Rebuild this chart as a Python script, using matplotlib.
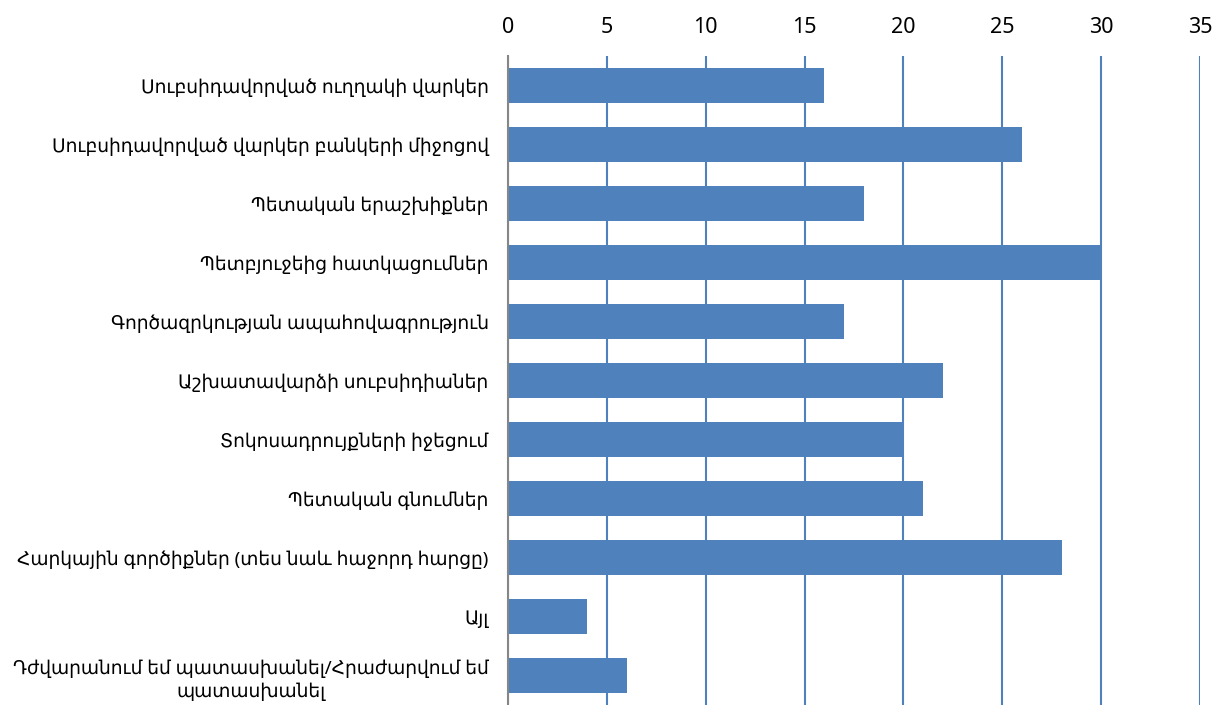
import matplotlib
matplotlib.use("Agg")
import matplotlib.pyplot as plt

categories = [
    "Սուբսիդավորված ուղղակի վարկեր",
    "Սուբսիդավորված վարկեր բանկերի միջոցով",
    "Պետական երաշխիքներ",
    "Պետբյուջեից հատկացումներ",
    "Գործազրկության ապահովագրություն",
    "Աշխատավարձի սուբսիդիաներ",
    "Տոկոսադրույքների իջեցում",
    "Պետական գնումներ",
    "Հարկային գործիքներ (տես նաև հաջորդ հարցը)",
    "Այլ",
    "Դժվարանում եմ պատասխանել/Հրաժարվում եմ\nպատասխանել",
]
values = [16, 26, 18, 30, 17, 22, 20, 21, 28, 4, 6]
xticks = [0, 5, 10, 15, 20, 25, 30, 35]

plt.rcParams['font.family'] = ['Noto Sans', 'DejaVu Sans']

fig = plt.figure(figsize=(12.2, 7.05), dpi=100)
ax = fig.add_axes([508/1220, 0.0, 692/1220, 649/705])

y = list(range(len(categories)))
ax.barh(y, values, height=0.58, color="#4F81BD", zorder=3)
ax.set_xlim(0, 35)
ax.set_ylim(len(categories) - 0.5, -0.5)
ax.set_xticks(xticks)
ax.xaxis.tick_top()
ax.tick_params(axis='x', length=0, labelsize=15.5, pad=13)
ax.set_yticks(y)
ax.set_yticklabels(categories, fontsize=13.4)
ax.tick_params(axis='y', length=0, pad=14)
for lbl in ax.get_yticklabels():
    lbl.set_multialignment('center')
    lbl.set_linespacing(1.35)

ax.grid(axis='x', color="#4F81BD", linewidth=1.5, zorder=0)
for s in ['top', 'right', 'bottom']:
    ax.spines[s].set_visible(False)
ax.spines['left'].set_color("#868686")
ax.spines['left'].set_linewidth(1.5)
ax.spines['left'].set_zorder(4)

fig.savefig("out.png", dpi=100, facecolor="white")
